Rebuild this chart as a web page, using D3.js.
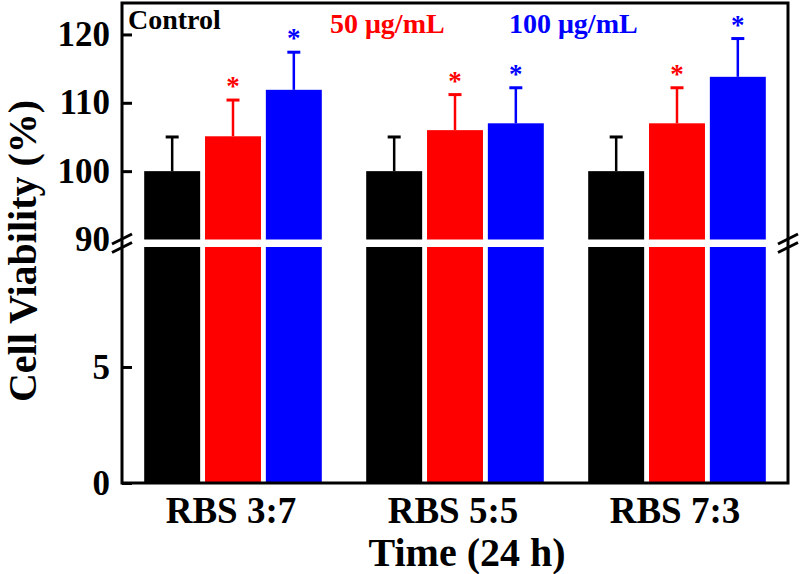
<!DOCTYPE html>
<html>
<head>
<meta charset="utf-8">
<script src="https://cdn.jsdelivr.net/npm/d3@7"></script>
<style>
  html, body { margin: 0; padding: 0; background: #fff; }
  svg { display: block; }
  text { font-family: "Liberation Serif", "Times New Roman", serif; font-weight: bold; }
</style>
</head>
<body>
<svg id="chart" width="800" height="574"></svg>
<script>
// ---- data ----
const groups = ["RBS 3:7", "RBS 5:5", "RBS 7:3"];
const seriesNames = ["Control", "50 μg/mL", "100 μg/mL"];
const seriesColors = ["#000000", "#ff0000", "#0000ff"];
const controlValues = [100, 100, 100];
const controlErrors = [5, 5, 5];
const low50Values = [105.1, 106, 107];
const low50Errors = [5.3, 5.2, 5.2];
const high100Values = [111.9, 107, 113.8];
const high100Errors = [5.5, 5.2, 5.6];
const significant = [false, true, true];
const upperTicks = [90, 100, 110, 120];
const lowerTicks = [0, 5];
const xTitle = "Time (24 h)";
const yTitle = "Cell Viability (%)";

const seriesValues = [controlValues, low50Values, high100Values];
const seriesErrors = [controlErrors, low50Errors, high100Errors];

// ---- layout ----
const pLeft = 122, pRight = 788, pTop = 3, pBottom = 483;
const svg = d3.select("#chart");

const x0 = d3.scaleBand().domain(groups).range([pLeft, pRight]).paddingInner(0.2).paddingOuter(0.1);
const x1 = d3.scaleBand().domain(seriesNames).range([0, x0.bandwidth()]).paddingInner(0.08).paddingOuter(0);

const yUp = d3.scaleLinear().domain([90, 124.6]).range([239.5, pTop]);
const yLow = d3.scaleLinear().domain([0, 10.17]).range([pBottom, 247]);

// table
const rows = [];
groups.forEach((g, gi) => {
  seriesNames.forEach((s, si) => {
    rows.push({ g, s, si, v: seriesValues[si][gi], e: seriesErrors[si][gi], sig: significant[si] });
  });
});

const plot = svg.append("g");

// lower bars
plot.selectAll("rect.low").data(rows).join("rect").attr("class", "low")
  .attr("x", d => x0(d.g) + x1(d.s))
  .attr("width", x1.bandwidth())
  .attr("y", d => yLow(Math.min(d.v, yLow.domain()[1])))
  .attr("height", d => yLow(0) - yLow(Math.min(d.v, yLow.domain()[1])))
  .attr("fill", d => seriesColors[d.si]);

// upper bars
plot.selectAll("rect.up").data(rows.filter(d => d.v > 90)).join("rect").attr("class", "up")
  .attr("x", d => x0(d.g) + x1(d.s))
  .attr("width", x1.bandwidth())
  .attr("y", d => yUp(d.v))
  .attr("height", d => yUp(90) - yUp(d.v))
  .attr("fill", d => seriesColors[d.si]);

// error bars (upper only)
const eb = plot.selectAll("g.err").data(rows).join("g").attr("class", "err");
eb.append("line")
  .attr("x1", d => x0(d.g) + x1(d.s) + x1.bandwidth() / 2)
  .attr("x2", d => x0(d.g) + x1(d.s) + x1.bandwidth() / 2)
  .attr("y1", d => yUp(d.v))
  .attr("y2", d => yUp(d.v + d.e))
  .attr("stroke", d => seriesColors[d.si]).attr("stroke-width", 2.5);
eb.append("line")
  .attr("x1", d => x0(d.g) + x1(d.s) + x1.bandwidth() / 2 - 6.5)
  .attr("x2", d => x0(d.g) + x1(d.s) + x1.bandwidth() / 2 + 6.5)
  .attr("y1", d => yUp(d.v + d.e))
  .attr("y2", d => yUp(d.v + d.e))
  .attr("stroke", d => seriesColors[d.si]).attr("stroke-width", 3);

// significance stars
plot.selectAll("text.star").data(rows.filter(d => d.sig)).join("text").attr("class", "star")
  .attr("x", d => x0(d.g) + x1(d.s) + x1.bandwidth() / 2)
  .attr("y", d => yUp(d.v + d.e) - 5)
  .attr("text-anchor", "middle")
  .attr("font-size", 27)
  .attr("fill", d => seriesColors[d.si])
  .text("*");

// axes
const axUp = d3.axisLeft(yUp).tickValues(upperTicks).tickSize(-10).tickPadding(12).tickFormat(d3.format("d"));
const axLow = d3.axisLeft(yLow).tickValues(lowerTicks).tickSize(-10).tickPadding(12).tickFormat(d3.format("d"));
const gUp = svg.append("g").attr("transform", `translate(${pLeft},0)`).call(axUp);
const gLow = svg.append("g").attr("transform", `translate(${pLeft},0)`).call(axLow);
[gUp, gLow].forEach(g => {
  g.select(".domain").remove();
  g.selectAll(".tick line").attr("stroke", "#000").attr("stroke-width", 3);
  g.selectAll(".tick text").attr("font-size", 35).attr("fill", "#000")
    .attr("font-family", "'Liberation Serif', 'Times New Roman', serif").attr("font-weight", "bold");
});
gUp.selectAll(".tick").filter(d => d === 90).select("line").remove();

// frame
svg.append("rect").attr("x", pLeft).attr("y", pTop).attr("width", pRight - pLeft).attr("height", pBottom - pTop)
  .attr("fill", "none").attr("stroke", "#000").attr("stroke-width", 3);

// break marks
[pLeft, pRight].forEach(ax => {
  [239, 247.5].forEach(cy => {
    svg.append("line").attr("x1", ax - 10).attr("y1", cy + 5).attr("x2", ax + 10).attr("y2", cy - 5)
      .attr("stroke", "#000").attr("stroke-width", 3);
  });
});

// x category labels
svg.append("g").selectAll("text").data(groups).join("text")
  .attr("x", d => x0(d) + x0.bandwidth() / 2 - 2)
  .attr("y", 523)
  .attr("text-anchor", "middle")
  .attr("font-size", 37)
  .text(d => d);

// axis titles
svg.append("text").attr("x", 467).attr("y", 566).attr("text-anchor", "middle")
  .attr("font-size", 40).text(xTitle);
svg.append("text").attr("transform", "translate(36,251) rotate(-90)").attr("text-anchor", "middle")
  .attr("font-size", 40).text(yTitle);

// legend
const legendX = [128, 330, 509];
const legendY = [29, 33, 33];
svg.append("g").selectAll("text").data(seriesNames).join("text")
  .attr("x", (d, i) => legendX[i])
  .attr("y", (d, i) => legendY[i])
  .attr("font-size", 28)
  .attr("fill", (d, i) => seriesColors[i])
  .text(d => d);
</script>
</body>
</html>
